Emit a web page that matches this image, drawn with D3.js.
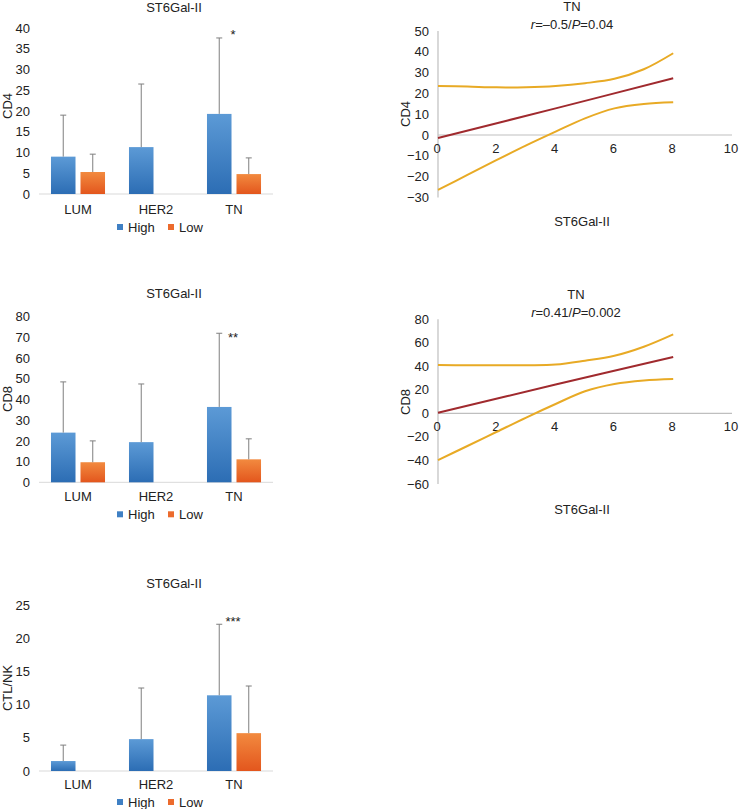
<!DOCTYPE html>
<html>
<head>
<meta charset="utf-8">
<script src="https://cdn.jsdelivr.net/npm/d3@7"></script>
<style>
  html, body { margin: 0; padding: 0; background: #fff; }
  svg { display: block; font-family: "Liberation Sans", Arial, sans-serif; }
  text { fill: #222; font-size: 13px; }
</style>
</head>
<body>
<svg id="chart" width="745" height="809"></svg>
<script>
// ---------- DATA ----------
const categories = ["LUM", "HER2", "TN"];
const seriesNames = ["High", "Low"];

// CD4 bar chart (means and SD; null = no bar)
const cd4High = [9.0, 11.3, 19.3];
const cd4HighSD = [10.0, 15.2, 18.3];
const cd4Low = [5.3, null, 4.8];
const cd4LowSD = [4.3, null, 3.9];
const cd4Ticks = [0, 5, 10, 15, 20, 25, 30, 35, 40];

// CD8 bar chart
const cd8High = [24.0, 19.4, 36.4];
const cd8HighSD = [24.5, 28.1, 35.6];
const cd8Low = [9.7, null, 11.1];
const cd8LowSD = [10.3, null, 9.9];
const cd8Ticks = [0, 10, 20, 30, 40, 50, 60, 70, 80];

// CTL/NK bar chart
const ctlHigh = [1.5, 4.8, 11.4];
const ctlHighSD = [2.4, 7.7, 10.7];
const ctlLow = [null, null, 5.7];
const ctlLowSD = [null, null, 7.1];
const ctlTicks = [0, 5, 10, 15, 20, 25];

const significance = ["*", "**", "***"];

// Regression plots (TN), x = ST6Gal-II
const regX = [0, 1, 2, 3, 4, 5, 6, 7, 8];
const fitX = [0, 4, 8];
const cd4Fit = [-1.4, 12.8, 27.3];
const cd4Upper = [23.6, 23.3, 22.9, 23.0, 23.6, 24.9, 27.0, 31.6, 39.3];
const cd4Lower = [-26.4, -19.2, -12.0, -5.0, 1.6, 8.0, 12.8, 14.9, 15.7];
const cd8Fit = [0.5, 24.5, 48.0];
const cd8Upper = [41.1, 41.0, 40.9, 41.0, 41.5, 44.8, 49.0, 56.7, 67.2];
const cd8Lower = [-39.7, -27.7, -15.6, -3.5, 8.0, 18.8, 25.0, 28.0, 29.2];
const regXTicks = [0, 2, 4, 6, 8, 10];
const cd4YTicks = [-30, -20, -10, 0, 10, 20, 30, 40, 50];
const cd8YTicks = [-60, -40, -20, 0, 20, 40, 60, 80];

// ---------- DRAW ----------
const svg = d3.select("#chart");
svg.append("rect").attr("width", 745).attr("height", 809).attr("fill", "#fff");

const defs = svg.append("defs");
function grad(id, c1, c2) {
  const g = defs.append("linearGradient").attr("id", id)
    .attr("x1", 0).attr("y1", 0).attr("x2", 0).attr("y2", 1);
  g.append("stop").attr("offset", "0%").attr("stop-color", c1);
  g.append("stop").attr("offset", "100%").attr("stop-color", c2);
}
grad("gBlue", "#5c9ad6", "#2c6db4");
grad("gOrange", "#f28a3f", "#e3561d");
const fills = { High: "url(#gBlue)", Low: "url(#gOrange)" };
const legendColors = { High: "#3f80c4", Low: "#ec6b2d" };

const fmt = d => d < 0 ? "\u2212" + Math.abs(d) : String(d);

function barChart(cfg) {
  const g = svg.append("g");
  const x0 = d3.scaleBand().domain(categories).range([39, 273]);
  const x1 = d3.scaleBand().domain(seriesNames).range([0, x0.bandwidth()])
    .paddingInner(0.169).paddingOuter(0.406);
  const y = d3.scaleLinear().domain([0, cfg.max]).range([cfg.base, cfg.top]);

  // title
  g.append("text").attr("x", 174).attr("y", cfg.titleY).attr("dy", "0.35em")
    .attr("text-anchor", "middle").text("ST6Gal-II");

  // y ticks
  const yAxis = d3.axisLeft(y).tickValues(cfg.ticks).tickSize(0).tickPadding(0).tickFormat(fmt);
  const ya = g.append("g").attr("transform", "translate(30,0)").call(yAxis);
  ya.select(".domain").remove();
  ya.selectAll("text").attr("font-size", 13).attr("font-family", null).attr("fill", "#222")
    .attr("x", 0).attr("text-anchor", "end");

  // y title
  g.append("text").attr("transform", `translate(7,${cfg.yTitleY}) rotate(-90)`)
    .attr("dy", "0.35em").attr("text-anchor", "middle").text(cfg.yTitle);

  // baseline
  g.append("line").attr("x1", 39).attr("x2", 273).attr("y1", y(0)).attr("y2", y(0))
    .attr("stroke", "#d9d9d9").attr("stroke-width", 1);

  const rows = [];
  categories.forEach((c, i) => {
    rows.push({ cat: c, s: "High", v: cfg.high[i], sd: cfg.highSD[i] });
    rows.push({ cat: c, s: "Low", v: cfg.low[i], sd: cfg.lowSD[i] });
  });
  const valid = rows.filter(d => d.v != null);

  g.selectAll("rect.bar").data(valid).enter().append("rect").attr("class", "bar")
    .attr("x", d => x0(d.cat) + x1(d.s))
    .attr("width", x1.bandwidth())
    .attr("y", d => y(d.v))
    .attr("height", d => y(0) - y(d.v))
    .attr("fill", d => fills[d.s]);

  // error bars (upper only)
  const eb = g.selectAll("g.err").data(valid).enter().append("g");
  eb.append("line")
    .attr("x1", d => x0(d.cat) + x1(d.s) + x1.bandwidth() / 2)
    .attr("x2", d => x0(d.cat) + x1(d.s) + x1.bandwidth() / 2)
    .attr("y1", d => y(d.v)).attr("y2", d => y(d.v + d.sd))
    .attr("stroke", "#7f7f7f").attr("stroke-width", 1);
  eb.append("line")
    .attr("x1", d => x0(d.cat) + x1(d.s) + x1.bandwidth() / 2 - 3)
    .attr("x2", d => x0(d.cat) + x1(d.s) + x1.bandwidth() / 2 + 3)
    .attr("y1", d => y(d.v + d.sd)).attr("y2", d => y(d.v + d.sd))
    .attr("stroke", "#7f7f7f").attr("stroke-width", 1);

  // significance
  g.append("text").attr("x", x0("TN") + x0.bandwidth() / 2 - 1).attr("y", cfg.starY)
    .attr("text-anchor", "middle").attr("font-size", 13).text(cfg.star);

  // category labels
  g.selectAll("text.cat").data(categories).enter().append("text")
    .attr("x", d => x0(d) + x0.bandwidth() / 2).attr("y", y(0) + cfg.catOff)
    .attr("dy", "0.35em").attr("text-anchor", "middle").text(d => d);

  // legend
  const ly = y(0) + cfg.legOff;
  const lx = { High: 117, Low: 168 };
  seriesNames.forEach(s => {
    g.append("rect").attr("x", lx[s]).attr("y", ly - 3).attr("width", 6).attr("height", 6)
      .attr("fill", legendColors[s]);
    g.append("text").attr("x", lx[s] + 11).attr("y", ly).attr("dy", "0.35em").text(s);
  });
}

barChart({ high: cd4High, highSD: cd4HighSD, low: cd4Low, lowSD: cd4LowSD, ticks: cd4Ticks,
  max: 40, base: 194, top: 28, titleY: 7, yTitle: "CD4", yTitleY: 106,
  star: significance[0], starY: 39, catOff: 15, legOff: 33 });
barChart({ high: cd8High, highSD: cd8HighSD, low: cd8Low, lowSD: cd8LowSD, ticks: cd8Ticks,
  max: 80, base: 482.3, top: 316.7, titleY: 293, yTitle: "CD8", yTitleY: 399,
  star: significance[1], starY: 342, catOff: 14.5, legOff: 32 });
barChart({ high: ctlHigh, highSD: ctlHighSD, low: ctlLow, lowSD: ctlLowSD, ticks: ctlTicks,
  max: 25, base: 771, top: 605, titleY: 583, yTitle: "CTL/NK", yTitleY: 688,
  star: significance[2], starY: 626, catOff: 13.5, legOff: 31 });

function regChart(cfg) {
  const g = svg.append("g");
  const x = d3.scaleLinear().domain([0, 10]).range([438, 732]);
  const y = d3.scaleLinear().domain(cfg.domain).range(cfg.range);

  // titles
  g.append("text").attr("x", cfg.titleX).attr("y", cfg.t1Y).attr("dy", "0.35em")
    .attr("text-anchor", "middle").text("TN");
  const t2 = g.append("text").attr("x", cfg.titleX).attr("y", cfg.t2Y).attr("dy", "0.35em")
    .attr("text-anchor", "middle");
  t2.append("tspan").attr("font-style", "italic").text("r");
  t2.append("tspan").text("=" + cfg.r + "/");
  t2.append("tspan").attr("font-style", "italic").text("P");
  t2.append("tspan").text("=" + cfg.p);

  // axes lines
  g.append("line").attr("x1", x(0)).attr("x2", x(0)).attr("y1", y(cfg.domain[1])).attr("y2", y(cfg.domain[0]))
    .attr("stroke", "#bfbfbf").attr("stroke-width", 1.2);
  g.append("line").attr("x1", x(0)).attr("x2", x(10)).attr("y1", y(0)).attr("y2", y(0))
    .attr("stroke", "#bfbfbf").attr("stroke-width", 1.2);

  // tick labels
  g.selectAll("text.yt").data(cfg.yTicks).enter().append("text")
    .attr("x", 429).attr("y", d => y(d)).attr("dy", "0.35em").attr("text-anchor", "end").text(fmt);
  g.selectAll("text.xt").data(regXTicks).enter().append("text")
    .attr("x", d => x(d) - 1).attr("y", y(0) + 13.5).attr("dy", "0.35em")
    .attr("text-anchor", "middle").text(fmt);

  // axis titles
  g.append("text").attr("x", 582).attr("y", cfg.xTitleY).attr("dy", "0.35em")
    .attr("text-anchor", "middle").text("ST6Gal-II");
  g.append("text").attr("transform", `translate(405,${cfg.yTitleY}) rotate(-90)`)
    .attr("dy", "0.35em").attr("text-anchor", "middle").text(cfg.yTitle);

  // curves
  const curve = d3.line().x(d => x(d[0])).y(d => y(d[1])).curve(d3.curveCatmullRom.alpha(0.5));
  const up = regX.map((v, i) => [v, cfg.upper[i]]);
  const lo = regX.map((v, i) => [v, cfg.lower[i]]);
  const fit = fitX.map((v, i) => [v, cfg.fit[i]]);
  [up, lo].forEach(pts => g.append("path").attr("d", curve(pts)).attr("fill", "none")
    .attr("stroke", "#e8aa25").attr("stroke-width", 2));
  g.append("path").attr("d", curve(fit)).attr("fill", "none")
    .attr("stroke", "#a02a2e").attr("stroke-width", 2);
}

regChart({ domain: [-30, 50], range: [197.4, 31], yTicks: cd4YTicks, r: "\u20130.5", p: "0.04",
  titleX: 572, t1Y: 6, t2Y: 24, xTitleY: 221, yTitle: "CD4", yTitleY: 114,
  fit: cd4Fit, upper: cd4Upper, lower: cd4Lower });
regChart({ domain: [-60, 80], range: [484, 319.3], yTicks: cd8YTicks, r: "0.41", p: "0.002",
  titleX: 576, t1Y: 294, t2Y: 312, xTitleY: 509, yTitle: "CD8", yTitleY: 402,
  fit: cd8Fit, upper: cd8Upper, lower: cd8Lower });
</script>
</body>
</html>
